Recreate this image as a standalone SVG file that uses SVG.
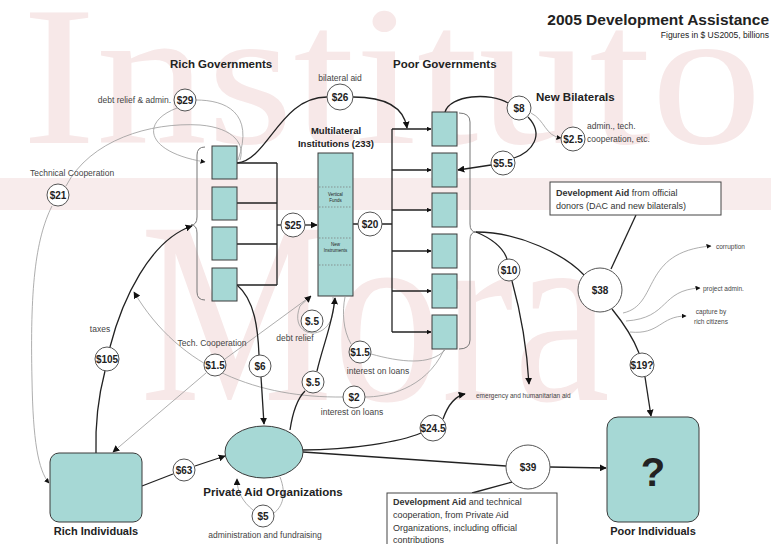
<svg xmlns="http://www.w3.org/2000/svg" width="771" height="544" viewBox="0 0 771 544">
<style>
text{font-family:"Liberation Sans",Arial,sans-serif;fill:#222}
.wm{font-family:"Liberation Serif","Times New Roman",serif;fill:#f7e8e8}
.box{fill:#a6d8d5;stroke:#3a3a3a;stroke-width:1}
.circ{fill:#fff;stroke:#555;stroke-width:1}
.conn{fill:none;stroke:#222;stroke-width:1.3}
.thin{fill:none;stroke:#999;stroke-width:0.8}
.gl{fill:none;stroke:#777;stroke-width:1}
.cl{font-size:10px;font-weight:bold;text-anchor:middle}
.lb{font-size:8.5px;fill:#444}
.sm{font-size:6.5px;fill:#444}
.hd{font-size:11.5px;font-weight:bold}
.bx{font-size:9px;fill:#333}
.dot{stroke:#777;stroke-width:0.7;stroke-dasharray:1.5 1.5}
</style>
<defs>
<marker id="ar" viewBox="0 0 10 10" refX="9" refY="5" markerWidth="7" markerHeight="7" orient="auto" markerUnits="userSpaceOnUse"><path d="M0,0 L10,5 L0,10 z" fill="#111"/></marker>
<marker id="as" viewBox="0 0 10 10" refX="9" refY="5" markerWidth="5" markerHeight="5" orient="auto" markerUnits="userSpaceOnUse"><path d="M0,0 L10,5 L0,10 z" fill="#111"/></marker>
</defs>
<rect width="771" height="544" fill="#fff"/>
<g id="watermark">
<rect x="0" y="178" width="771" height="32" fill="#f8ecec"/>
<text class="wm" x="22" y="143" font-size="200" textLength="740" lengthAdjust="spacingAndGlyphs">Instituto</text>
<text class="wm" x="140" y="400" font-size="260" textLength="470" lengthAdjust="spacingAndGlyphs">Mora</text>
</g>
<g id="titles">
<text x="769" y="25" font-size="15.5" font-weight="bold" text-anchor="end">2005 Development Assistance</text>
<text x="769" y="38" font-size="8.5" text-anchor="end" fill="#333">Figures in $ US2005, billions</text>
<text class="hd" x="170" y="68">Rich Governments</text>
<text class="hd" x="393" y="68">Poor Governments</text>
<text class="hd" x="536" y="101" font-size="11">New Bilaterals</text>
</g>
<g id="connectors">
<path class="conn" d="M237,163 H277 M237,203 H277 M237,244 H277 M237,285 H277 M277,163 V285" stroke-width="1"/>
<path class="conn" d="M277,225 H281"/>
<path class="conn" d="M305,225 H317" marker-end="url(#ar)"/>
<path class="gl" d="M205,147 Q197,147 197,155 L197,217 Q197,225 191,225 Q197,225 197,233 L197,292 Q197,300 205,300"/>
<path class="conn" d="M353,224 H358 M382,224 H392"/>
<path class="conn" d="M392,129 V332" stroke-width="1"/>
<path class="conn" d="M392,129 H431" stroke-width="1" marker-end="url(#as)"/>
<path class="conn" d="M392,170 H431" stroke-width="1" marker-end="url(#as)"/>
<path class="conn" d="M392,210 H431" stroke-width="1" marker-end="url(#as)"/>
<path class="conn" d="M392,251 H431" stroke-width="1" marker-end="url(#as)"/>
<path class="conn" d="M392,291 H431" stroke-width="1" marker-end="url(#as)"/>
<path class="conn" d="M392,332 H431" stroke-width="1" marker-end="url(#as)"/>
<path class="gl" d="M459,113 Q470,113 470,122 L470,224 Q470,232 476,232 Q470,232 470,240 L470,340 Q470,349 459,349"/>
<path class="conn" d="M237,163 C268,160 280,97 327,97"/>
<path class="conn" d="M353,97 C388,97 404,108 407,128" marker-end="url(#ar)"/>
<path class="conn" d="M445,112 C450,95 490,92 508,103"/>
<path class="conn" d="M528,117 C545,135 532,152 514,158"/>
<path class="conn" d="M491,165 L458,170" marker-end="url(#ar)"/>
<path class="thin" d="M531,113 C545,120 545,136 561,138" marker-end="url(#as)"/>
<path class="thin" d="M238,160 C255,112 225,100 196,100"/>
<path class="thin" d="M177,108 C140,122 145,152 205,162" marker-end="url(#as)"/>
<path class="thin" d="M66,186 C90,140 150,122 200,125 C235,128 245,145 240,160"/>
<path class="thin" d="M52,206 C35,240 30,290 32,380 C33,440 38,470 49,483" marker-end="url(#as)"/>
<path class="conn" d="M96,453 C95,420 100,390 105,371"/>
<path class="conn" d="M110,347 C122,300 150,240 192,226" marker-end="url(#ar)"/>
<path class="thin" d="M444,350 C425,390 385,397 365,397"/>
<path class="thin" d="M343,397 C260,398 180,370 134,292" marker-end="url(#ar)"/>
<path class="thin" d="M311,296 L225,359"/>
<path class="thin" d="M206,373 L113,452" marker-end="url(#ar)"/>
<path class="thin" d="M333,297 C340,345 286,342 300,306 L311,296" marker-end="url(#ar)"/>
<path class="thin" d="M445,350 C430,366 400,362 371,354"/>
<path class="thin" d="M351,344 C343,330 342,312 345,297"/>
<path class="conn" d="M237,285 C255,300 258,330 259,355"/>
<path class="conn" d="M261,377 L264,424" marker-end="url(#ar)"/>
<path class="conn" d="M290,430 C293,410 298,398 305,391"/>
<path class="conn" d="M317,371 C323,345 333,322 335,298" marker-end="url(#ar)"/>
<path class="conn" d="M142,486 L173,474"/>
<path class="conn" d="M195,466 L225,456" marker-end="url(#ar)"/>
<path class="thin" d="M280,477 C287,495 282,507 274,513"/>
<path class="thin" d="M253,510 C243,502 237,492 237,479" marker-end="url(#ar)"/>
<path class="conn" d="M303,450 C350,450 400,442 421,433"/>
<path class="conn" d="M443,419 C448,405 455,396 465,394" marker-end="url(#ar)"/>
<path class="conn" d="M303,452 L506,466"/>
<path class="conn" d="M550,467 L606,468" marker-end="url(#ar)"/>
<path class="conn" d="M472,493 L512,482" stroke-width="1"/>
<path class="conn" d="M476,232 C495,240 504,250 507,259"/>
<path class="conn" d="M512,281 C520,310 527,350 529,384" marker-end="url(#ar)"/>
<path class="conn" d="M476,232 C520,232 565,255 584,275"/>
<path class="conn" d="M612,309 C625,325 634,340 639,353"/>
<path class="conn" d="M645,377 L651,416" marker-end="url(#ar)"/>
<path class="conn" d="M636,215 L611,269" stroke-width="1"/>
<path class="thin" d="M623,313 C660,305 640,252 711,246" marker-end="url(#as)"/>
<path class="thin" d="M626,321 C670,318 660,290 700,288" marker-end="url(#as)"/>
<path class="thin" d="M630,332 C660,335 660,316 686,316" marker-end="url(#as)"/>
</g>
<g id="rich-governments">
<rect class="box" x="212" y="146" width="25" height="33"/>
<rect class="box" x="212" y="187" width="25" height="33"/>
<rect class="box" x="212" y="227" width="25" height="33"/>
<rect class="box" x="212" y="268" width="25" height="33"/>
</g>
<g id="multilateral">
<text x="336" y="134" font-size="9.5" font-weight="bold" text-anchor="middle">Multilateral</text>
<text x="336" y="147" font-size="9.5" font-weight="bold" text-anchor="middle">Institutions (233)</text>
<rect class="box" x="318" y="153" width="35" height="143"/>
<path class="dot" d="M319,187 H352 M319,207 H352 M319,238 H352 M319,265 H352"/>
<text x="335.5" y="196" font-size="4.5" text-anchor="middle" fill="#555">Vertical</text>
<text x="335.5" y="202" font-size="4.5" text-anchor="middle" fill="#555">Funds</text>
<text x="335.5" y="246" font-size="4.5" text-anchor="middle" fill="#555">New</text>
<text x="335.5" y="252" font-size="4.5" text-anchor="middle" fill="#555">Instruments</text>
</g>
<g id="poor-governments">
<rect class="box" x="432" y="112" width="25" height="34"/>
<rect class="box" x="432" y="153" width="25" height="34"/>
<rect class="box" x="432" y="193" width="25" height="34"/>
<rect class="box" x="432" y="234" width="25" height="34"/>
<rect class="box" x="432" y="274" width="25" height="34"/>
<rect class="box" x="432" y="315" width="25" height="34"/>
</g>
<g id="rich-individuals">
<rect class="box" x="50" y="453" width="92" height="69" rx="9"/>
<text x="96" y="535" font-size="11" font-weight="bold" text-anchor="middle">Rich Individuals</text>
</g>
<g id="private-aid">
<ellipse class="box" cx="264" cy="452" rx="39" ry="26"/>
<text x="273" y="496" font-size="11.5" font-weight="bold" text-anchor="middle">Private Aid Organizations</text>
</g>
<g id="poor-individuals">
<rect class="box" x="607" y="417" width="92" height="105" rx="11"/>
<text x="653" y="486" font-size="40" font-weight="bold" text-anchor="middle">?</text>
<text x="653" y="535" font-size="11" font-weight="bold" text-anchor="middle">Poor Individuals</text>
</g>
<g id="note-official">
<rect x="550" y="182" width="171" height="33" fill="#fff" stroke="#444" stroke-width="1"/>
<text class="bx" x="556" y="196"><tspan font-weight="bold">Development Aid</tspan> from official</text>
<text class="bx" x="556" y="209">donors (DAC and new bilaterals)</text>
</g>
<g id="note-private">
<rect x="387" y="493" width="170" height="60" fill="#fff" stroke="#444" stroke-width="1"/>
<text class="bx" x="393" y="505"><tspan font-weight="bold">Development Aid</tspan> and technical</text>
<text class="bx" x="393" y="518">cooperation, from Private Aid</text>
<text class="bx" x="393" y="531">Organizations, including official</text>
<text class="bx" x="393" y="543">contributions</text>
</g>
<g id="labels">
<text class="lb" x="340" y="81" text-anchor="middle" fill="#555">bilateral aid</text>
<text class="lb" x="171" y="103" text-anchor="end">debt relief &amp; admin.</text>
<text class="lb" x="30" y="176">Technical Cooperation</text>
<text class="lb" x="587" y="129">admin., tech.</text>
<text class="lb" x="587" y="142">cooperation, etc.</text>
<text class="lb" x="100" y="332" text-anchor="middle">taxes</text>
<text class="lb" x="212" y="346" text-anchor="middle">Tech. Cooperation</text>
<text class="lb" x="295" y="341" text-anchor="middle">debt relief</text>
<text class="lb" x="378" y="374" text-anchor="middle">interest on loans</text>
<text class="lb" x="352" y="415" text-anchor="middle">interest on loans</text>
<text class="sm" x="476" y="398">emergency and humanitarian aid</text>
<text class="lb" x="265" y="538" text-anchor="middle">administration and fundraising</text>
<text class="sm" x="716" y="249">corruption</text>
<text class="sm" x="703" y="291">project admin.</text>
<text class="sm" x="711" y="314" text-anchor="middle">capture by</text>
<text class="sm" x="711" y="324" text-anchor="middle">rich citizens</text>
</g>
<g id="amounts">
<circle class="circ" cx="185" cy="100" r="11"/><text class="cl" x="185" y="104">$29</text>
<circle class="circ" cx="340" cy="97" r="13"/><text class="cl" x="340" y="101">$26</text>
<circle class="circ" cx="519" cy="108" r="12"/><text class="cl" x="519" y="112">$8</text>
<circle class="circ" cx="573" cy="139" r="12"/><text class="cl" x="573" y="143">$2.5</text>
<circle class="circ" cx="503" cy="163" r="12"/><text class="cl" x="503" y="167">$5.5</text>
<circle class="circ" cx="58" cy="195" r="11"/><text class="cl" x="58" y="199">$21</text>
<circle class="circ" cx="293" cy="225" r="12"/><text class="cl" x="293" y="229">$25</text>
<circle class="circ" cx="370" cy="224" r="12"/><text class="cl" x="370" y="228">$20</text>
<circle class="circ" cx="509" cy="270" r="11"/><text class="cl" x="509" y="274">$10</text>
<circle class="circ" cx="600" cy="290" r="22"/><text class="cl" x="600" y="294">$38</text>
<circle class="circ" cx="642" cy="365" r="12"/><text class="cl" x="642" y="369">$19?</text>
<circle class="circ" cx="107" cy="359" r="12"/><text class="cl" x="107" y="363">$105</text>
<circle class="circ" cx="215" cy="365" r="11"/><text class="cl" x="215" y="369">$1.5</text>
<circle class="circ" cx="260" cy="366" r="11"/><text class="cl" x="260" y="370">$6</text>
<circle class="circ" cx="312" cy="321" r="11"/><text class="cl" x="312" y="325">$.5</text>
<circle class="circ" cx="313" cy="382" r="11"/><text class="cl" x="313" y="386">$.5</text>
<circle class="circ" cx="360" cy="352" r="11"/><text class="cl" x="360" y="356">$1.5</text>
<circle class="circ" cx="354" cy="397" r="11"/><text class="cl" x="354" y="401">$2</text>
<circle class="circ" cx="184" cy="470" r="11"/><text class="cl" x="184" y="474">$63</text>
<circle class="circ" cx="263" cy="516" r="11"/><text class="cl" x="263" y="520">$5</text>
<circle class="circ" cx="433" cy="428" r="13"/><text class="cl" x="433" y="432">$24.5</text>
<circle class="circ" cx="528" cy="467" r="22"/><text class="cl" x="528" y="471">$39</text>
</g>
</svg>
